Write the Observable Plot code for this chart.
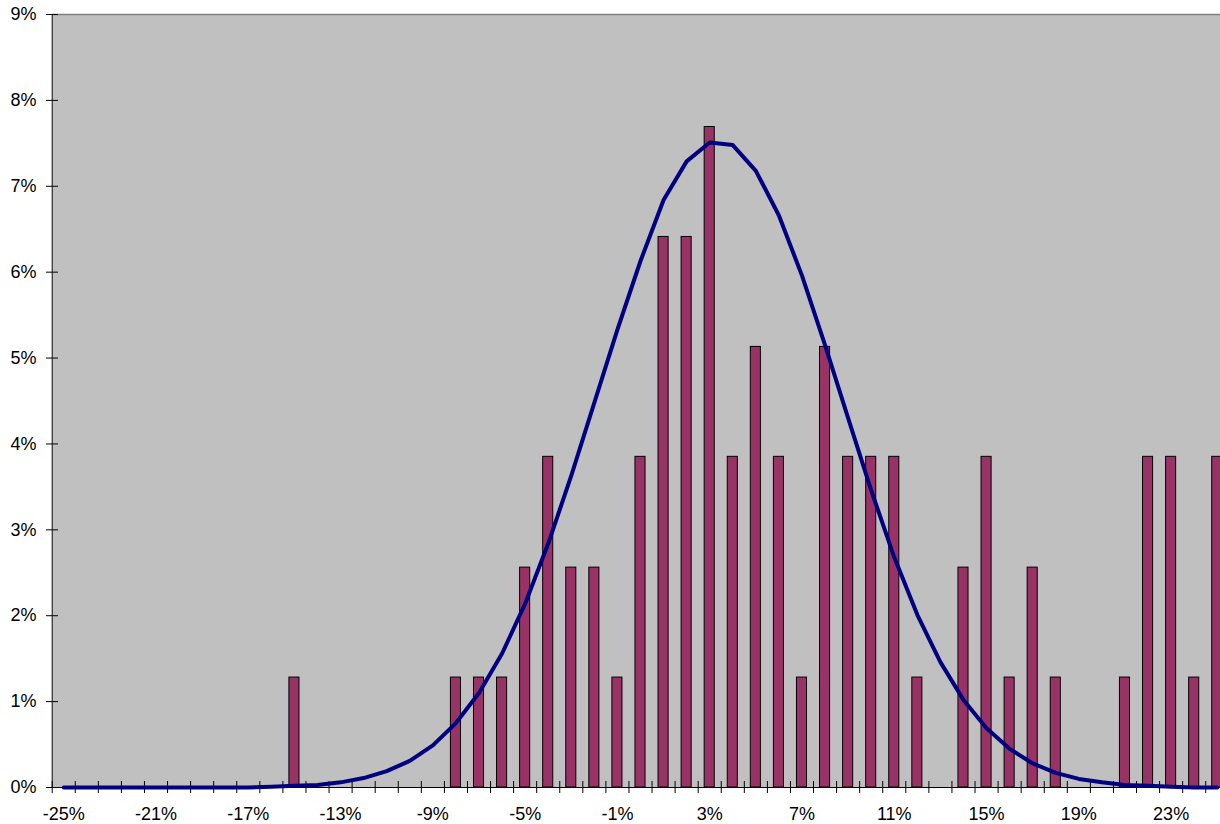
<!DOCTYPE html>
<html>
<head>
<meta charset="utf-8">
<script src="https://cdn.jsdelivr.net/npm/d3@7"></script>
<script src="https://cdn.jsdelivr.net/npm/@observablehq/plot@0.6"></script>
<style>
  html, body { margin: 0; padding: 0; background: #fff; overflow: hidden; }
</style>
</head>
<body>
<div id="chart"></div>
<script>
// Categories (return bins, in %)
const categories = [-25,-24,-23,-22,-21,-20,-19,-18,-17,-16,-15,-14,-13,-12,-11,-10,-9,-8,-7,-6,-5,-4,-3,-2,-1,0,1,2,3,4,5,6,7,8,9,10,11,12,13,14,15,16,17,18,19,20,21,22,23,24,25];

// Observed frequency (%), one per category
const observed = [0,0,0,0,0,0,0,0,0,0,1.28,0,0,0,0,0,0,1.28,1.28,1.28,2.56,3.85,2.56,2.56,1.28,3.85,6.41,6.41,7.69,3.85,5.13,3.85,1.28,5.13,3.85,3.85,3.85,1.28,0,2.56,3.85,1.28,2.56,1.28,0,0,1.28,3.85,3.85,1.28,3.85];

// Fitted normal curve (%), one per category
const fitted = [0,0,0,0,0,0,0,0,0,0.01,0.02,0.03,0.06,0.11,0.19,0.31,0.49,0.75,1.10,1.56,2.14,2.84,3.63,4.48,5.33,6.13,6.84,7.29,7.51,7.48,7.18,6.66,5.96,5.15,4.30,3.46,2.68,2.01,1.46,1.02,0.69,0.45,0.28,0.17,0.10,0.06,0.03,0.02,0.01,0,0];

// Tick labels
const xTickLabels = [-25,-21,-17,-13,-9,-5,-1,3,7,11,15,19,23];
const yTicks = [0,1,2,3,4,5,6,7,8,9];

const bars = categories.map((c, i) => ({c, v: observed[i]})).filter(d => d.v > 0);
const curve = categories.map((c, i) => ({c, v: fitted[i]}));
const boundaries = categories.map(c => c - 0.5);

const chart = Plot.plot({
  width: 1220,
  height: 824,
  marginLeft: 52,
  marginRight: 0,
  marginTop: 14,
  marginBottom: 37,
  style: {
    fontFamily: "'Liberation Sans', Arial, sans-serif",
    fontSize: "18px",
    background: "#fff",
    color: "#000",
    overflow: "hidden"
  },
  x: {type: "linear", domain: [-25.5, 25.5], range: [51.7, 1228.3]},
  y: {domain: [0, 9]},
  marks: [
    Plot.frame({fill: "#C0C0C0", stroke: null}),
    Plot.ruleY([9], {stroke: "#808080", strokeWidth: 1.5}),
    Plot.rectY(bars, {
      x1: d => d.c - 0.5, x2: d => d.c + 0.5, y: "v",
      insetLeft: 6.5, insetRight: 6.5,
      fill: "#993366", stroke: "#000", strokeWidth: 1
    }),
    Plot.ruleX([-25.5], {stroke: "#000", strokeWidth: 1}),
    Plot.ruleY([0], {stroke: "#000", strokeWidth: 1}),
    Plot.axisX(boundaries, {tickSize: 12, dy: -6, fill: "none", stroke: "#000", label: null}),
    Plot.axisX(xTickLabels, {tickSize: 0, tickPadding: 20, tickFormat: d => d + "%", fontSize: 18, fill: "#000", label: null}),
    Plot.axisY(yTicks, {tickSize: 12, dx: 6, tickPadding: 10, tickFormat: d => d + "%", fontSize: 18, fill: "#000", stroke: "#000", label: null}),
    Plot.line(curve, {x: "c", y: "v", stroke: "#000080", strokeWidth: 4})
  ]
});
document.getElementById("chart").appendChild(chart);
</script>
</body>
</html>
